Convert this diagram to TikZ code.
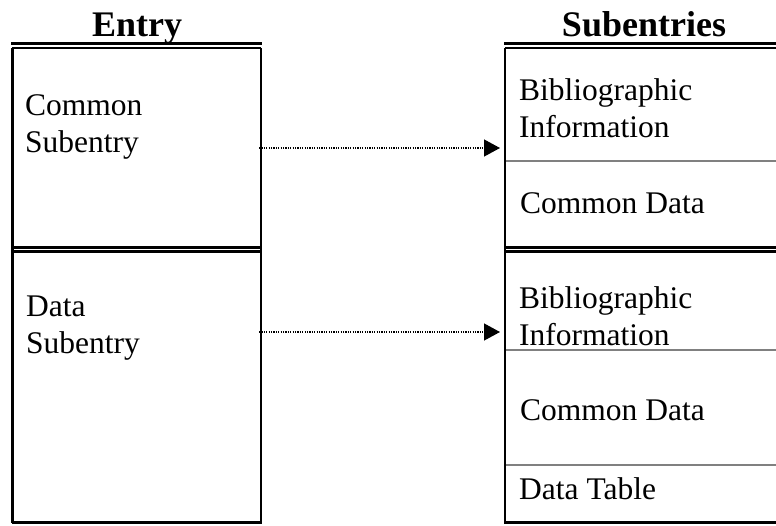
\documentclass[tikz,border=0pt]{standalone}
\usepackage{fontspec}
\setmainfont{Liberation Serif}
\usetikzlibrary{arrows.meta}
\tikzset{
  blk/.style={line width=2.6pt, black},
  gry/.style={line width=2.4pt, color={rgb,255:red,128;green,128;blue,128}},
  lbl/.style={anchor=base west, inner sep=0pt, font=\fontsize{31.5}{37}\selectfont},
  hdr/.style={anchor=base, inner sep=0pt, font=\fontsize{36}{42}\selectfont\bfseries},
  arr/.style={line width=1.3pt, dash pattern=on 1.2pt off 1.2pt, -{Triangle[length=16pt,width=17pt]}}
}
\begin{document}
\begin{tikzpicture}[x=1pt,y=-1pt]
\useasboundingbox (0,0) rectangle (776,525);
% headers
\node[hdr] (hEntry) at (137,36) {Entry};
\node[hdr] (hSub) at (644,36) {Subentries};
% left box
\draw[blk] (11,43.3) -- (262,43.3);
\draw[blk] (12,47.8) -- (261,47.8);
\draw[blk] (12.5,47.8) -- (12.5,523);
\draw[blk] (261,47.8) -- (261,523);
\draw[blk] (12,247.3) -- (261,247.3);
\draw[blk] (12,251.2) -- (261,251.2);
\draw[blk] (11.5,522.5) -- (262,522.5);
% right box
\draw[blk] (504,43.3) -- (780,43.3);
\draw[blk] (505,47.8) -- (780,47.8);
\draw[blk] (505,47.8) -- (505,523);
\draw[gry] (506,161) -- (780,161);
\draw[blk] (505,247.3) -- (780,247.3);
\draw[blk] (505,251.2) -- (780,251.2);
\draw[gry] (506,350) -- (780,350);
\draw[gry] (506,465) -- (780,465);
\draw[blk] (504,522.5) -- (780,522.5);
% left texts
\node[lbl] (cs1) at (25,115) {Common};
\node[lbl] (cs2) at (25,152) {Subentry};
\node[lbl] (ds1) at (26,316) {Data};
\node[lbl] (ds2) at (26,353) {Subentry};
% right texts
\node[lbl] (bi1) at (519,100) {Bibliographic};
\node[lbl] (in1) at (519,137) {Information};
\node[lbl] (cd1) at (520,213) {Common Data};
\node[lbl] (bi2) at (519,308) {Bibliographic};
\node[lbl] (in2) at (519,345) {Information};
\node[lbl] (cd2) at (520,420) {Common Data};
\node[lbl] (dt) at (519,499) {Data Table};
% arrows
\coordinate (a1s) at (259,148);
\coordinate (a1e) at (500,148);
\coordinate (a2s) at (259,332);
\coordinate (a2e) at (500,332);
\draw[arr] (a1s) -- (a1e);
\draw[arr] (a2s) -- (a2e);
\end{tikzpicture}
\end{document}
